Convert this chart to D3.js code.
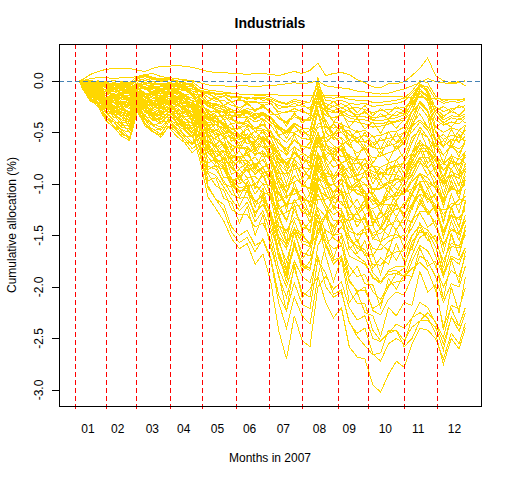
<!DOCTYPE html>
<html lang="en">
<head>
<meta charset="UTF-8">
<title>Industrials</title>
<script src="https://d3js.org/d3.v7.min.js"></script>
<style>
  body { margin: 0; background: #fff; }
  svg text { font-family: "Liberation Sans", Arial, Helvetica, sans-serif; fill: #000; }
</style>
</head>
<body>
<svg id="chart" width="512" height="480"></svg>
<script>
// trading-day index (2007) of each sample point
var days = [4,6,11,16,21,26,31,36,41,46,51,56,61,66,71,76,81,86,91,96,101,106,111,116,121,126,
            131,136,141,146,151,156,161,166,171,176,181,186,191,196,201,206,211,216,221,226,231,236,241,246,250];
var monthStarts = [1, 21, 40, 62, 82, 104, 125, 146, 169, 188, 211, 232];
var monthMids = [9.5, 28.5, 50.5, 70.5, 92, 112.5, 134, 157, 176, 199, 220, 243];
var monthLabels = ["01","02","03","04","05","06","07","08","09","10","11","12"];
var yTicks = [0, -0.5, -1, -1.5, -2, -2.5, -3];

// cumulative allocation (%), one array per portfolio
var p01 = [0,-0.01,-0.03,-0.02,-0.05,-0.04,-0.06,-0.07,-0.02,-0.04,-0.06,-0.05,-0.04,-0.05,-0.07,-0.08, -0.09,-0.11,-0.13,-0.14,-0.15,-0.16,-0.17,-0.17,-0.16,-0.18,-0.21,-0.23,-0.2,-0.22,-0.21,-0.02, -0.19,-0.2,-0.19,-0.22,-0.23,-0.22,-0.25,-0.24,-0.23,-0.22,-0.2,-0.12,-0.04,-0.06,-0.18,-0.22,-0.2,-0.21,-0.19];
var p02 = [0,0,-0.01,-0.02,-0.03,-0.02,-0.03,-0.04,0.03,0.05,0.02,0.01,0.02,0,-0.02,-0.03, -0.1,-0.16,-0.2,-0.19,-0.24,-0.26,-0.23,-0.28,-0.25,-0.3,-0.36,-0.4,-0.33,-0.37,-0.38,-0.08, -0.27,-0.29,-0.26,-0.3,-0.33,-0.31,-0.36,-0.35,-0.33,-0.34,-0.29,-0.18,-0.03,-0.09,-0.27,-0.34,-0.3,-0.33,-0.28];
var p03 = [0,-0.03,-0.07,-0.06,-0.13,-0.12,-0.18,-0.16,-0.08,-0.12,-0.16,-0.18,-0.13,-0.15,-0.2,-0.21, -0.18,-0.22,-0.26,-0.28,-0.3,-0.34,-0.31,-0.37,-0.33,-0.4,-0.47,-0.52,-0.44,-0.5,-0.53,-0.15, -0.5,-0.57,-0.55,-0.63,-0.7,-0.66,-0.75,-0.73,-0.7,-0.67,-0.6,-0.4,-0.2,-0.3,-0.6,-0.72,-0.63,-0.66,-0.6];
var p04 = [0,-0.05,-0.11,-0.12,-0.22,-0.21,-0.29,-0.3,-0.14,-0.21,-0.26,-0.27,-0.22,-0.29,-0.3,-0.33, -0.28,-0.36,-0.37,-0.43,-0.46,-0.52,-0.47,-0.55,-0.5,-0.6,-0.72,-0.8,-0.7,-0.76,-0.8,-0.5, -0.75,-0.84,-0.8,-0.9,-0.97,-0.93,-1.05,-1.04,-0.98,-0.95,-0.96,-0.8,-0.6,-0.7,-0.9,-1,-0.92,-0.94,-0.85];
var p05 = [0,-0.02,-0.04,-0.03,-0.07,-0.06,-0.09,-0.1,-0.03,-0.06,-0.07,-0.09,-0.06,-0.1,-0.13,-0.2, -0.36,-0.5,-0.57,-0.6,-0.72,-0.75,-0.7,-0.83,-0.76,-0.9,-1.08,-1.2,-1.05,-1.13,-1.18,-0.85, -0.9,-0.92,-0.91,-1.02,-1.1,-1.07,-1.2,-1.18,-1.15,-1.08,-1.1,-0.95,-0.8,-0.85,-1.02,-1.15,-1.05,-1.07,-1];
var p06 = [0,-0.05,-0.15,-0.17,-0.3,-0.31,-0.4,-0.42,-0.2,-0.3,-0.36,-0.38,-0.3,-0.37,-0.42,-0.48, -0.5,-0.62,-0.7,-0.75,-0.83,-0.93,-0.86,-1,-0.92,-1.1,-1.33,-1.48,-1.25,-1.42,-1.45,-1.05, -1.12,-1.15,-1.1,-1.32,-1.37,-1.33,-1.5,-1.48,-1.4,-1.36,-1.38,-1.2,-1.05,-1.1,-1.28,-1.47,-1.32,-1.33,-1.25];
var p07 = [0,-0.08,-0.19,-0.25,-0.39,-0.45,-0.54,-0.58,-0.3,-0.44,-0.5,-0.53,-0.45,-0.54,-0.6,-0.7, -0.62,-0.83,-0.86,-0.97,-1.1,-1.14,-1.13,-1.28,-1.2,-1.35,-1.7,-1.88,-1.6,-1.8,-1.84,-1.4, -1.3,-1.43,-1.36,-1.55,-1.6,-1.64,-1.78,-1.79,-1.7,-1.66,-1.65,-1.5,-1.4,-1.45,-1.55,-1.75,-1.58,-1.6,-1.5];
var p08 = [0,-0.03,-0.09,-0.11,-0.15,-0.19,-0.21,-0.24,-0.11,-0.19,-0.21,-0.2,-0.17,-0.23,-0.28,-0.4, -0.68,-1.02,-1.15,-1.2,-1.42,-1.5,-1.45,-1.6,-1.55,-1.74,-2.15,-2.4,-2.1,-2.28,-2.36,-1.9, -2.15,-2.3,-2.2,-2.58,-2.68,-2.7,-2.95,-3.02,-2.85,-2.72,-2.78,-2.55,-2.4,-2.42,-2.5,-2.7,-2.45,-2.55,-2.35];
var p09 = [0,-0.04,-0.13,-0.14,-0.25,-0.28,-0.32,-0.36,-0.17,-0.28,-0.31,-0.34,-0.26,-0.35,-0.4,-0.52, -0.78,-1.13,-1.24,-1.36,-1.53,-1.63,-1.58,-1.78,-1.68,-1.95,-2.42,-2.7,-2.28,-2.52,-2.58,-2, -1.9,-2.02,-1.95,-2.2,-2.32,-2.28,-2.5,-2.53,-2.45,-2.36,-2.4,-2.3,-2.15,-2.2,-2.35,-2.55,-2.3,-2.38,-2.2];
var p10 = [0,-0.01,-0.05,-0.06,-0.09,-0.1,-0.12,-0.11,-0.05,-0.08,-0.11,-0.12,-0.1,-0.1,-0.18,-0.28, -0.45,-0.7,-0.77,-0.8,-0.95,-1,-0.95,-1.1,-1,-1.15,-1.45,-1.6,-1.36,-1.55,-1.58,-1.3, -1.6,-1.78,-1.7,-1.93,-2.05,-2,-2.23,-2.27,-2.12,-2.05,-2.08,-1.9,-1.7,-1.75,-1.9,-2.15,-1.97,-2,-1.8];
var p11 = [0,-0.02,-0.08,-0.08,-0.15,-0.15,-0.2,-0.21,-0.1,-0.15,-0.17,-0.2,-0.15,-0.2,-0.21,-0.26, -0.31,-0.42,-0.43,-0.48,-0.55,-0.57,-0.55,-0.64,-0.58,-0.7,-0.84,-0.93,-0.8,-0.9,-0.92,-0.6, -0.65,-0.72,-0.66,-0.8,-0.8,-0.83,-0.88,-0.91,-0.85,-0.82,-0.8,-0.6,-0.45,-0.55,-0.76,-0.86,-0.8,-0.82,-0.72];
var p12 = [0,-0.07,-0.17,-0.21,-0.31,-0.38,-0.45,-0.47,-0.23,-0.37,-0.42,-0.45,-0.37,-0.43,-0.48,-0.55, -0.4,-0.48,-0.52,-0.53,-0.63,-0.65,-0.66,-0.71,-0.7,-0.77,-0.96,-1.07,-0.93,-1,-1.05,-0.75, -0.97,-1.08,-1,-1.15,-1.24,-1.2,-1.35,-1.33,-1.27,-1.25,-1.22,-1.05,-0.9,-1,-1.15,-1.3,-1.19,-1.2,-1.12];
var p13 = [0,-0.03,-0.04,-0.07,-0.11,-0.1,-0.15,-0.14,-0.07,-0.12,-0.12,-0.15,-0.12,-0.13,-0.17,-0.19, -0.22,-0.3,-0.3,-0.35,-0.38,-0.42,-0.39,-0.46,-0.42,-0.5,-0.6,-0.66,-0.57,-0.63,-0.66,-0.3, -0.45,-0.46,-0.44,-0.53,-0.55,-0.53,-0.6,-0.58,-0.56,-0.54,-0.5,-0.3,-0.12,-0.2,-0.5,-0.57,-0.53,-0.55,-0.48];
var p14 = [0,-0.05,-0.12,-0.13,-0.23,-0.24,-0.31,-0.33,-0.16,-0.26,-0.27,-0.31,-0.24,-0.31,-0.35,-0.48, -0.65,-0.9,-1.02,-1.06,-1.25,-1.3,-1.3,-1.42,-1.38,-1.55,-1.9,-2.1,-1.82,-2.05,-2.1,-1.6, -1.45,-1.5,-1.48,-1.7,-1.74,-1.78,-1.9,-1.97,-1.84,-1.8,-1.8,-1.6,-1.45,-1.5,-1.7,-1.9,-1.7,-1.74,-1.62];
var p15 = [0,-0.03,-0.1,-0.12,-0.19,-0.21,-0.24,-0.27,-0.13,-0.21,-0.22,-0.26,-0.21,-0.24,-0.27,-0.3, -0.2,-0.24,-0.24,-0.26,-0.3,-0.31,-0.3,-0.34,-0.31,-0.36,-0.45,-0.5,-0.42,-0.46,-0.47,-0.2, -0.34,-0.36,-0.33,-0.4,-0.4,-0.42,-0.45,-0.44,-0.42,-0.4,-0.38,-0.25,-0.1,-0.15,-0.38,-0.43,-0.4,-0.42,-0.36];
var p16 = [0,-0.08,-0.19,-0.22,-0.37,-0.4,-0.52,-0.55,-0.26,-0.42,-0.47,-0.52,-0.4,-0.48,-0.55,-0.62, -0.5,-0.6,-0.62,-0.7,-0.77,-0.85,-0.8,-0.91,-0.84,-1,-1.2,-1.35,-1.16,-1.26,-1.32,-1, -1.2,-1.3,-1.25,-1.42,-1.5,-1.47,-1.63,-1.64,-1.56,-1.52,-1.5,-1.35,-1.2,-1.25,-1.42,-1.58,-1.45,-1.48,-1.36];
var p17 = [0,0,-0.02,-0.04,-0.03,-0.05,-0.04,-0.05,0.01,-0.02,-0.04,-0.04,-0.03,-0.04,-0.05,-0.06, -0.11,-0.13,-0.16,-0.15,-0.2,-0.19,-0.2,-0.21,-0.21,-0.22,-0.3,-0.31,-0.27,-0.3,-0.32,0.03, -0.3,-0.4,-0.42,-0.46,-0.5,-0.48,-0.54,-0.53,-0.5,-0.49,-0.45,-0.3,-0.08,-0.15,-0.45,-0.5,-0.46,-0.48,-0.43];
var p18 = [0,-0.06,-0.12,-0.17,-0.27,-0.3,-0.35,-0.39,-0.19,-0.3,-0.32,-0.37,-0.3,-0.35,-0.41,-0.46, -0.56,-0.74,-0.83,-0.86,-1.02,-1.08,-1.02,-1.18,-1.1,-1.28,-1.57,-1.75,-1.48,-1.67,-1.7,-1.3, -1.55,-1.63,-1.6,-1.8,-1.9,-1.88,-2.05,-2.12,-1.98,-1.95,-1.94,-1.75,-1.6,-1.65,-1.8,-2,-1.84,-1.9,-1.7];
var p19 = [0,-0.05,-0.16,-0.18,-0.31,-0.33,-0.43,-0.43,-0.22,-0.35,-0.37,-0.42,-0.33,-0.4,-0.45,-0.5, -0.35,-0.37,-0.39,-0.43,-0.5,-0.53,-0.52,-0.58,-0.55,-0.63,-0.8,-0.88,-0.76,-0.84,-0.86,-0.7, -0.86,-0.96,-0.88,-1.05,-1.06,-1.1,-1.16,-1.22,-1.12,-1.12,-1.1,-0.98,-0.9,-0.94,-1.05,-1.18,-1.02,-1.1,-0.96];
var p20 = [0,-0.02,-0.05,-0.09,-0.11,-0.15,-0.16,-0.18,-0.1,-0.13,-0.16,-0.16,-0.15,-0.16,-0.2,-0.35, -0.55,-0.88,-0.92,-1.03,-1.15,-1.26,-1.18,-1.37,-1.26,-1.48,-1.82,-2,-1.75,-1.9,-1.96,-1.7, -2,-2.1,-2.05,-2.35,-2.45,-2.4,-2.65,-2.72,-2.55,-2.5,-2.55,-2.3,-2.25,-2.3,-2.45,-2.75,-2.5,-2.6,-2.4];
var p21 = [0,0,-0.01,-0.01,-0.02,-0.03,-0.02,-0.03,0.02,0.04,0.01,0,0.01,-0.01,-0.02,-0.04, -0.17,-0.24,-0.28,-0.31,-0.37,-0.41,-0.42,-0.49,-0.48,-0.55,-0.71,-0.82,-0.69,-0.77,-0.78,-0.5, -0.68,-0.74,-0.8,-0.97,-1.1,-1.12,-1.35,-1.33,-1.25,-1.08,-0.95,-0.7,-0.5,-0.55,-0.66,-0.72,-0.64,-0.7,-0.6];
var p22 = [0,-0.02,-0.03,-0.05,-0.09,-0.08,-0.12,-0.13,-0.05,-0.08,-0.11,-0.1,-0.08,-0.12,-0.13,-0.2, -0.3,-0.47,-0.48,-0.52,-0.56,-0.6,-0.55,-0.62,-0.55,-0.63,-0.75,-0.8,-0.7,-0.76,-0.8,-0.55, -0.55,-0.52,-0.45,-0.52,-0.59,-0.68,-0.83,-0.9,-0.91,-0.91,-0.95,-0.91,-0.74,-0.74,-0.86,-1.02,-0.91,-0.95,-0.86];
var p23 = [0,-0.03,-0.09,-0.14,-0.19,-0.24,-0.27,-0.3,-0.16,-0.22,-0.24,-0.29,-0.24,-0.27,-0.32,-0.35, -0.3,-0.35,-0.31,-0.3,-0.31,-0.3,-0.27,-0.29,-0.26,-0.29,-0.37,-0.41,-0.35,-0.38,-0.39,-0.25, -0.22,-0.25,-0.22,-0.27,-0.26,-0.28,-0.31,-0.29,-0.28,-0.27,-0.26,-0.2,-0.15,-0.18,-0.25,-0.3,-0.27,-0.26,-0.24];
var p24 = [0,-0.06,-0.18,-0.21,-0.35,-0.4,-0.48,-0.5,-0.25,-0.38,-0.44,-0.48,-0.38,-0.46,-0.52,-0.6, -0.51,-0.7,-0.76,-0.83,-0.96,-1.04,-1.02,-1.17,-1.12,-1.3,-1.65,-1.85,-1.58,-1.77,-1.82,-1.45, -1.32,-1.53,-1.58,-1.95,-2.03,-2.03,-2.21,-2.16,-2,-1.87,-1.82,-1.56,-1.47,-1.47,-1.61,-1.89,-1.61,-1.62,-1.42];
var p25 = [0,-0.01,-0.02,-0.04,-0.06,-0.05,-0.06,-0.08,-0.02,-0.04,-0.07,-0.06,-0.05,-0.06,-0.08,-0.15, -0.26,-0.35,-0.39,-0.43,-0.51,-0.56,-0.56,-0.65,-0.63,-0.74,-0.93,-1.03,-0.92,-1.02,-1.04,-0.82, -0.99,-1.08,-1.06,-1.25,-1.35,-1.35,-1.53,-1.56,-1.51,-1.49,-1.54,-1.43,-1.27,-1.27,-1.38,-1.6,-1.43,-1.49,-1.35];
var p26 = [0,-0.03,-0.07,-0.1,-0.15,-0.17,-0.21,-0.22,-0.11,-0.17,-0.19,-0.21,-0.17,-0.21,-0.24,-0.27, -0.19,-0.25,-0.28,-0.3,-0.34,-0.36,-0.35,-0.4,-0.37,-0.43,-0.54,-0.6,-0.51,-0.56,-0.57,-0.3, -0.62,-0.66,-0.63,-0.73,-0.76,-0.76,-0.83,-0.84,-0.8,-0.77,-0.7,-0.45,-0.25,-0.35,-0.73,-0.81,-0.73,-0.76,-0.69];
var p27 = [0,-0.05,-0.12,-0.15,-0.23,-0.26,-0.31,-0.32,-0.15,-0.21,-0.22,-0.22,-0.17,-0.2,-0.22,-0.25, -0.38,-0.52,-0.57,-0.62,-0.72,-0.78,-0.77,-0.88,-0.84,-0.97,-1.23,-1.36,-1.15,-1.28,-1.3,-0.95, -0.99,-1.01,-0.95,-1.04,-1.03,-1,-1.06,-1.05,-1,-0.96,-0.95,-0.86,-0.74,-0.74,-0.86,-0.99,-0.88,-0.92,-0.83];
var p28 = [0,-0.07,-0.2,-0.23,-0.36,-0.44,-0.5,-0.57,-0.28,-0.42,-0.49,-0.55,-0.44,-0.5,-0.57,-0.66, -0.6,-0.69,-0.69,-0.68,-0.73,-0.74,-0.72,-0.81,-0.77,-0.88,-1.1,-1.22,-1.04,-1.15,-1.17,-0.92, -1.1,-1.22,-1.24,-1.51,-1.62,-1.67,-1.86,-1.95,-1.85,-1.84,-1.9,-1.82,-1.76,-1.84,-2.03,-2.38,-2.21,-2.38,-2.2];
var p29 = [0,0,0,-0.01,-0.01,0,-0.01,-0.02,0.04,0.06,0.03,0.02,0.03,0.02,0,-0.01, -0.07,-0.09,-0.1,-0.11,-0.12,-0.13,-0.13,-0.14,-0.14,-0.16,-0.2,-0.22,-0.18,-0.2,-0.21,-0.05, -0.25,-0.3,-0.32,-0.36,-0.38,-0.38,-0.41,-0.42,-0.4,-0.39,-0.36,-0.2,-0.05,-0.1,-0.33,-0.41,-0.36,-0.38,-0.34];
var p30 = [0,-0.06,-0.13,-0.19,-0.27,-0.33,-0.38,-0.4,-0.22,-0.31,-0.34,-0.4,-0.33,-0.38,-0.44,-0.52, -0.72,-1.04,-1.15,-1.26,-1.47,-1.57,-1.52,-1.66,-1.53,-1.72,-2.08,-2.23,-1.96,-2.17,-2.21,-1.74, -1.87,-2.07,-2.03,-2.34,-2.48,-2.57,-2.66,-2.64,-2.42,-2.42,-2.52,-2.39,-2.33,-2.33,-2.39,-2.61,-2.29,-2.43,-2.25];
var p31 = [0,-0.01,-0.04,-0.04,-0.07,-0.08,-0.1,-0.1,-0.05,-0.08,-0.09,-0.1,-0.08,-0.1,-0.13,-0.2, -0.33,-0.58,-0.65,-0.74,-0.85,-0.91,-0.83,-0.9,-0.85,-0.94,-1.1,-1.14,-1.04,-1.15,-1.17,-0.8, -0.92,-0.94,-0.86,-0.94,-0.92,-0.89,-0.94,-0.96,-0.86,-0.83,-0.84,-0.73,-0.61,-0.64,-0.73,-0.87,-0.78,-0.81,-0.74];
var p32 = [0,-0.04,-0.08,-0.11,-0.17,-0.19,-0.23,-0.24,-0.13,-0.19,-0.21,-0.23,-0.19,-0.23,-0.26,-0.3, -0.15,-0.21,-0.23,-0.24,-0.28,-0.3,-0.29,-0.32,-0.31,-0.35,-0.44,-0.49,-0.41,-0.46,-0.47,-0.2, -0.42,-0.52,-0.5,-0.57,-0.59,-0.59,-0.65,-0.66,-0.63,-0.61,-0.55,-0.35,-0.2,-0.28,-0.57,-0.64,-0.57,-0.59,-0.54];
var p33 = [0,-0.02,-0.06,-0.07,-0.11,-0.13,-0.15,-0.16,-0.08,-0.13,-0.14,-0.15,-0.13,-0.15,-0.17,-0.26, -0.4,-0.63,-0.75,-0.84,-1.01,-1.07,-1.04,-1.17,-1.11,-1.27,-1.52,-1.63,-1.43,-1.58,-1.61,-1.23, -1.32,-1.41,-1.31,-1.46,-1.49,-1.43,-1.48,-1.44,-1.31,-1.24,-1.23,-1.09,-0.98,-0.98,-1.04,-1.16,-1.04,-1.08,-0.98];
var p34 = [0,-0.01,-0.02,-0.02,-0.03,-0.04,-0.04,-0.05,0,-0.02,-0.03,-0.03,-0.02,-0.03,-0.05,-0.14, -0.27,-0.38,-0.4,-0.41,-0.47,-0.46,-0.43,-0.47,-0.43,-0.49,-0.61,-0.68,-0.58,-0.64,-0.65,-0.45, -0.44,-0.52,-0.56,-0.78,-0.95,-1.08,-1.33,-1.44,-1.28,-1.16,-1.06,-0.83,-0.69,-0.69,-0.78,-0.93,-0.78,-0.81,-0.74];
var p35 = [0,-0.04,-0.1,-0.12,-0.18,-0.19,-0.22,-0.21,-0.1,-0.13,-0.12,-0.13,-0.1,-0.12,-0.14,-0.17, -0.21,-0.31,-0.36,-0.41,-0.5,-0.54,-0.56,-0.65,-0.63,-0.74,-0.98,-1.14,-1.04,-1.2,-1.3,-1.03, -1.21,-1.36,-1.35,-1.61,-1.7,-1.76,-1.92,-1.95,-1.88,-1.87,-1.9,-1.69,-1.52,-1.47,-1.61,-1.86,-1.72,-1.78,-1.62];
var p36 = [0,-0.01,-0.03,-0.04,-0.06,-0.07,-0.08,-0.09,-0.04,-0.07,-0.07,-0.08,-0.07,-0.08,-0.09,-0.1, -0.1,-0.12,-0.13,-0.14,-0.16,-0.17,-0.16,-0.18,-0.17,-0.2,-0.24,-0.26,-0.22,-0.25,-0.26,-0.12, -0.16,-0.17,-0.16,-0.18,-0.19,-0.19,-0.21,-0.21,-0.2,-0.19,-0.17,-0.1,0,-0.02,-0.15,-0.2,-0.18,-0.19,-0.17];
var p37 = [0,-0.04,-0.11,-0.14,-0.24,-0.28,-0.35,-0.38,-0.2,-0.31,-0.35,-0.4,-0.33,-0.41,-0.46,-0.54, -0.42,-0.4,-0.43,-0.46,-0.52,-0.55,-0.52,-0.58,-0.54,-0.61,-0.76,-0.84,-0.7,-0.77,-0.78,-0.58, -0.55,-0.63,-0.68,-0.83,-0.95,-1,-1.12,-1.2,-1.2,-1.21,-1.29,-1.2,-1.1,-1.13,-1.25,-1.45,-1.3,-1.35,-1.23];
var p38 = [0,-0.03,-0.07,-0.08,-0.13,-0.15,-0.18,-0.19,-0.1,-0.15,-0.17,-0.18,-0.15,-0.18,-0.2,-0.24, -0.34,-0.46,-0.5,-0.54,-0.62,-0.66,-0.64,-0.72,-0.68,-0.78,-0.98,-1.09,-0.92,-1.02,-1.04,-0.7, -0.95,-1.18,-1.17,-1.3,-1.3,-1.22,-1.24,-1.2,-1.08,-0.99,-0.95,-0.78,-0.66,-0.66,-0.78,-0.87,-0.78,-0.81,-0.74];
var p39 = [0,-0.05,-0.11,-0.16,-0.23,-0.28,-0.34,-0.34,-0.19,-0.26,-0.29,-0.32,-0.28,-0.32,-0.36,-0.42, -0.34,-0.38,-0.35,-0.34,-0.34,-0.33,-0.32,-0.36,-0.32,-0.37,-0.44,-0.49,-0.41,-0.46,-0.47,-0.25, -0.29,-0.31,-0.29,-0.34,-0.35,-0.35,-0.38,-0.39,-0.37,-0.36,-0.33,-0.22,-0.1,-0.14,-0.3,-0.38,-0.34,-0.35,-0.32];
var p40 = [0,-0.03,-0.08,-0.12,-0.17,-0.21,-0.24,-0.27,-0.13,-0.2,-0.23,-0.24,-0.2,-0.24,-0.27,-0.33, -0.46,-0.69,-0.78,-0.85,-0.99,-1.07,-1.06,-1.21,-1.16,-1.35,-1.72,-1.9,-1.61,-1.79,-1.82,-1.44, -1.58,-1.74,-1.71,-2.03,-2.16,-2.16,-2.42,-2.52,-2.45,-2.42,-2.58,-2.5,-2.33,-2.25,-2.34,-2.49,-2.18,-2.21,-2.01];
var p41 = [0,0.01,0.06,0.09,0.11,0.12,0.12,0.12,0.1,0.09,0.12,0.14,0.14,0.15,0.14,0.13, 0.11,0.09,0.08,0.08,0.07,0.07,0.06,0.07,0.07,0.06,0.05,0.07,0.09,0.07,0.1,0.17, 0.05,0.07,0.08,0.06,0.01,-0.02,-0.06,-0.07,-0.03,-0.03,-0.01,0.05,0.12,0.22,0.05,0,-0.02,-0.01,-0.05];
var p42 = [0,0,0.02,0.03,0.03,0.02,0.03,0.03,0.04,0.06,0.07,0.04,0.03,0.02,0.01,0, -0.02,-0.04,-0.05,-0.05,-0.06,-0.05,-0.05,-0.06,-0.05,-0.05,-0.04,-0.03,-0.02,-0.03,-0.02,0, -0.05,-0.06,-0.07,-0.08,-0.1,-0.11,-0.12,-0.13,-0.12,-0.1,-0.08,-0.05,-0.02,0.02,-0.01,-0.02,-0.03,-0.02,0];
var p43 = [0,-0.01,-0.02,-0.03,-0.04,-0.05,-0.05,-0.06,-0.03,-0.04,-0.05,-0.06,-0.05,-0.06,-0.07,-0.08, -0.1,-0.11,-0.12,-0.12,-0.12,-0.13,-0.13,-0.13,-0.13,-0.13,-0.14,-0.14,-0.14,-0.14,-0.14,-0.14, -0.14,-0.14,-0.15,-0.15,-0.15,-0.15,-0.15,-0.15,-0.15,-0.15,-0.16,-0.16,-0.16,-0.17,-0.17,-0.18,-0.18,-0.18,-0.18];
var p44 = [0,-0.02,-0.05,-0.03,-0.06,-0.08,-0.05,-0.09,-0.03,-0.07,-0.05,-0.08,-0.04,-0.08,-0.06,-0.1, -0.18,-0.33,-0.27,-0.38,-0.35,-0.46,-0.36,-0.5,-0.38,-0.55,-0.57,-0.72,-0.52,-0.68,-0.6,-0.42, -0.38,-0.52,-0.41,-0.58,-0.48,-0.6,-0.53,-0.66,-0.5,-0.6,-0.5,-0.44,-0.38,-0.45,-0.58,-0.52,-0.6,-0.48,-0.53];
var p45 = [0,-0.04,-0.1,-0.07,-0.17,-0.13,-0.23,-0.17,-0.14,-0.13,-0.21,-0.17,-0.19,-0.16,-0.25,-0.22, -0.42,-0.47,-0.62,-0.55,-0.76,-0.68,-0.79,-0.74,-0.84,-0.8,-1.17,-1.12,-1.1,-1.06,-1.22,-0.98, -0.85,-0.75,-0.88,-0.84,-1.03,-0.88,-1.1,-0.97,-1.08,-0.9,-1.05,-0.85,-0.78,-0.92,-0.84,-1.1,-0.85,-1.02,-0.8];
var p46 = [0,-0.01,-0.06,-0.03,-0.1,-0.07,-0.13,-0.09,-0.08,-0.06,-0.12,-0.09,-0.11,-0.08,-0.14,-0.12, -0.26,-0.45,-0.39,-0.52,-0.49,-0.64,-0.51,-0.69,-0.55,-0.74,-0.8,-1,-0.76,-0.95,-0.85,-0.8, -0.92,-1.12,-0.95,-1.24,-1.15,-1.3,-1.26,-1.42,-1.2,-1.32,-1.18,-1.25,-1.02,-1.18,-1.1,-1.38,-1.1,-1.28,-1.05];
var p47 = [0,-0.03,-0.12,-0.09,-0.21,-0.17,-0.29,-0.23,-0.17,-0.18,-0.26,-0.22,-0.23,-0.21,-0.31,-0.28, -0.3,-0.31,-0.43,-0.37,-0.52,-0.45,-0.54,-0.49,-0.57,-0.53,-0.8,-0.76,-0.75,-0.71,-0.84,-0.55, -0.6,-0.53,-0.62,-0.58,-0.75,-0.62,-0.8,-0.69,-0.78,-0.63,-0.76,-0.55,-0.48,-0.66,-0.6,-0.8,-0.6,-0.74,-0.57];
var p48 = [0,-0.06,-0.1,-0.18,-0.21,-0.31,-0.3,-0.39,-0.21,-0.24,-0.34,-0.3,-0.3,-0.3,-0.41,-0.4, -0.47,-0.53,-0.69,-0.62,-0.85,-0.77,-0.88,-0.83,-0.93,-0.9,-1.3,-1.28,-1.22,-1.2,-1.38,-1.1, -1.25,-1.48,-1.28,-1.64,-1.54,-1.7,-1.68,-1.88,-1.63,-1.74,-1.6,-1.64,-1.38,-1.55,-1.5,-1.82,-1.48,-1.7,-1.4];
var p49 = [0,-0.01,-0.02,0,-0.03,-0.02,-0.05,-0.03,0,0.02,-0.01,0.01,-0.02,0,-0.03,-0.05, -0.1,-0.2,-0.16,-0.24,-0.2,-0.29,-0.21,-0.3,-0.23,-0.33,-0.33,-0.44,-0.31,-0.41,-0.35,-0.15, -0.26,-0.2,-0.27,-0.23,-0.31,-0.24,-0.34,-0.27,-0.32,-0.25,-0.3,-0.18,-0.1,-0.16,-0.29,-0.25,-0.3,-0.24,-0.27];
var p50 = [0,-0.05,-0.08,-0.16,-0.17,-0.27,-0.25,-0.33,-0.18,-0.2,-0.29,-0.25,-0.26,-0.25,-0.35,-0.33, -0.55,-0.64,-0.8,-0.75,-0.99,-0.92,-1.03,-1,-1.1,-1.08,-1.4,-1.56,-1.45,-1.5,-1.58,-1.5, -1.3,-1.12,-1.08,-1.1,-1.28,-1.15,-1.4,-1.26,-1.36,-1.18,-1.33,-1.1,-1.2,-1.05,-1.24,-1.25,-1.23,-1.15,-1.16];
var p51 = [0,-0.03,-0.04,-0.09,-0.08,-0.14,-0.12,-0.18,-0.06,-0.13,-0.11,-0.16,-0.09,-0.16,-0.14,-0.2, -0.2,-0.2,-0.29,-0.24,-0.35,-0.3,-0.36,-0.33,-0.38,-0.35,-0.53,-0.5,-0.5,-0.47,-0.56,-0.28, -0.6,-0.77,-0.62,-0.85,-0.75,-0.88,-0.82,-0.97,-0.8,-0.9,-0.78,-0.7,-0.58,-0.66,-0.84,-0.8,-0.86,-0.75,-0.8];
var p52 = [0,-0.07,-0.12,-0.21,-0.25,-0.36,-0.35,-0.45,-0.24,-0.29,-0.39,-0.35,-0.36,-0.35,-0.47,-0.46, -0.4,-0.42,-0.55,-0.5,-0.68,-0.61,-0.7,-0.66,-0.74,-0.72,-1.04,-1.02,-0.98,-0.95,-1.1,-0.85, -1.02,-1.24,-1.06,-1.37,-1.27,-1.42,-1.4,-1.57,-1.35,-1.45,-1.32,-1.38,-1.15,-1.3,-1.22,-1.52,-1.24,-1.42,-1.18];
var p53 = [0,-0.03,-0.05,-0.1,-0.1,-0.16,-0.14,-0.2,-0.07,-0.16,-0.13,-0.19,-0.12,-0.19,-0.17,-0.26, -0.42,-0.69,-0.63,-0.8,-0.79,-0.97,-0.82,-1.05,-0.88,-1.13,-1.28,-1.56,-1.2,-1.46,-1.37,-1.25, -1.48,-1.72,-1.5,-1.9,-1.8,-1.97,-1.98,-2.2,-1.92,-2.02,-1.88,-1.9,-1.62,-1.8,-1.75,-2.12,-1.74,-1.96,-1.65];
var p54 = [0,-0.02,-0.02,-0.06,-0.04,-0.09,-0.06,-0.11,-0.03,-0.09,-0.06,-0.1,-0.05,-0.1,-0.07,-0.13, -0.1,-0.1,-0.14,-0.12,-0.17,-0.15,-0.18,-0.16,-0.19,-0.18,-0.27,-0.25,-0.25,-0.23,-0.28,-0.1, -0.28,-0.4,-0.3,-0.45,-0.36,-0.47,-0.4,-0.51,-0.38,-0.46,-0.38,-0.3,-0.22,-0.3,-0.45,-0.4,-0.45,-0.36,-0.41];
var p55 = [0,-0.04,-0.07,-0.13,-0.14,-0.21,-0.2,-0.26,-0.14,-0.16,-0.23,-0.2,-0.21,-0.2,-0.28,-0.34, -0.55,-0.86,-0.82,-1,-1.03,-1.22,-1.06,-1.32,-1.12,-1.43,-1.65,-1.96,-1.55,-1.85,-1.75,-1.5, -1.3,-1.22,-1.32,-1.36,-1.57,-1.42,-1.7,-1.58,-1.65,-1.44,-1.62,-1.35,-1.28,-1.42,-1.36,-1.68,-1.36,-1.55,-1.3];
var p56 = [0,-0.05,-0.09,-0.17,-0.19,-0.29,-0.27,-0.36,-0.2,-0.22,-0.32,-0.27,-0.28,-0.27,-0.38,-0.36, -0.25,-0.28,-0.35,-0.33,-0.42,-0.4,-0.44,-0.45,-0.47,-0.5,-0.66,-0.72,-0.64,-0.7,-0.75,-0.55, -0.82,-0.99,-0.84,-1.1,-1,-1.15,-1.12,-1.27,-1.08,-1.17,-1.05,-1.1,-0.9,-1.05,-0.98,-1.22,-0.97,-1.14,-0.92];
var p57 = [0,-0.01,0,-0.02,-0.01,-0.04,-0.02,-0.05,0.02,0,0.03,-0.01,0.01,-0.02,-0.04,-0.12, -0.3,-0.55,-0.5,-0.65,-0.64,-0.8,-0.66,-0.86,-0.7,-0.93,-1.02,-1.26,-0.98,-1.2,-1.1,-0.75, -0.72,-0.65,-0.74,-0.72,-0.87,-0.75,-0.95,-0.84,-0.92,-0.77,-0.9,-0.7,-0.62,-0.8,-0.72,-0.94,-0.72,-0.88,-0.68];
var p58 = [0,-0.06,-0.11,-0.19,-0.23,-0.33,-0.32,-0.42,-0.23,-0.26,-0.37,-0.32,-0.33,-0.32,-0.44,-0.43, -0.34,-0.36,-0.48,-0.43,-0.59,-0.53,-0.61,-0.58,-0.65,-0.63,-0.9,-0.9,-0.86,-0.84,-0.95,-0.6, -0.5,-0.42,-0.5,-0.48,-0.6,-0.5,-0.65,-0.55,-0.63,-0.5,-0.62,-0.42,-0.32,-0.45,-0.48,-0.64,-0.47,-0.6,-0.44];
var p59 = [0,-0.02,-0.09,-0.08,-0.17,-0.15,-0.23,-0.2,-0.13,-0.15,-0.21,-0.19,-0.19,-0.18,-0.26,-0.38, -0.62,-0.97,-0.94,-1.14,-1.18,-1.38,-1.22,-1.5,-1.3,-1.62,-1.88,-2.24,-1.78,-2.1,-2.02,-1.9, -1.6,-1.5,-1.42,-1.5,-1.68,-1.55,-1.82,-1.72,-1.78,-1.58,-1.75,-1.5,-1.42,-1.55,-1.5,-1.82,-1.5,-1.7,-1.45];
var p60 = [0,0,-0.03,-0.01,-0.05,-0.03,-0.07,-0.04,0,-0.03,-0.01,-0.04,-0.02,-0.04,-0.06,-0.12, -0.22,-0.38,-0.33,-0.45,-0.42,-0.55,-0.44,-0.6,-0.47,-0.65,-0.68,-0.88,-0.64,-0.82,-0.72,-0.5, -0.78,-0.93,-0.8,-1.05,-0.98,-1.1,-1.08,-1.2,-1.02,-1.12,-1,-0.92,-0.75,-0.85,-0.95,-1.15,-0.92,-1.08,-0.88];
var p61 = [0,-0.07,-0.14,-0.23,-0.29,-0.4,-0.41,-0.5,-0.27,-0.33,-0.44,-0.4,-0.39,-0.41,-0.54,-0.54, -0.52,-0.6,-0.74,-0.69,-0.91,-0.86,-0.94,-0.93,-1,-1.02,-1.41,-1.45,-1.33,-1.36,-1.48,-1, -1.05,-1,-1.08,-1.1,-1.28,-1.16,-1.38,-1.28,-1.35,-1.2,-1.32,-1.1,-0.98,-1.15,-1.1,-1.36,-1.1,-1.28,-1.05];
var p62 = [0,-0.01,-0.06,-0.04,-0.1,-0.08,-0.14,-0.1,-0.08,-0.08,-0.13,-0.1,-0.12,-0.1,-0.16,-0.25, -0.5,-0.8,-0.76,-0.94,-0.95,-1.13,-0.98,-1.23,-1.04,-1.33,-1.52,-1.83,-1.43,-1.73,-1.62,-1.35, -1.7,-1.95,-1.72,-2.15,-2.05,-2.25,-2.28,-2.48,-2.2,-2.28,-2.15,-2.18,-1.85,-2.05,-1.98,-2.42,-2,-2.25,-1.9];
var p63 = [0,-0.03,-0.05,-0.1,-0.1,-0.16,-0.14,-0.2,-0.07,-0.15,-0.12,-0.18,-0.1,-0.18,-0.15,-0.2, -0.14,-0.12,-0.18,-0.15,-0.21,-0.18,-0.22,-0.2,-0.24,-0.22,-0.32,-0.3,-0.3,-0.28,-0.34,-0.1, -0.42,-0.56,-0.45,-0.62,-0.55,-0.66,-0.6,-0.72,-0.58,-0.66,-0.56,-0.5,-0.4,-0.48,-0.64,-0.58,-0.65,-0.52,-0.6];
var p64 = [0,-0.05,-0.09,-0.15,-0.18,-0.26,-0.25,-0.32,-0.13,-0.25,-0.22,-0.3,-0.2,-0.3,-0.27,-0.38, -0.3,-0.48,-0.42,-0.56,-0.53,-0.67,-0.55,-0.73,-0.58,-0.8,-0.86,-1.1,-0.82,-1.03,-0.92,-0.62, -0.75,-0.68,-0.8,-0.76,-0.92,-0.8,-1,-0.88,-0.98,-0.82,-0.95,-0.75,-0.66,-0.85,-0.76,-0.98,-0.76,-0.92,-0.72];
var p65 = [0,-0.02,-0.02,-0.05,-0.06,-0.09,-0.07,-0.11,-0.04,-0.09,-0.07,-0.11,-0.06,-0.11,-0.09,-0.14, -0.13,-0.25,-0.22,-0.29,-0.28,-0.35,-0.29,-0.38,-0.31,-0.41,-0.45,-0.56,-0.43,-0.53,-0.48,-0.2, -0.3,-0.24,-0.31,-0.28,-0.36,-0.29,-0.39,-0.32,-0.37,-0.3,-0.32,-0.15,-0.04,-0.12,-0.3,-0.36,-0.28,-0.34,-0.27];
var p66 = [0,-0.08,-0.16,-0.26,-0.33,-0.45,-0.47,-0.56,-0.3,-0.38,-0.49,-0.46,-0.44,-0.47,-0.6,-0.6, -0.56,-0.65,-0.8,-0.76,-0.99,-0.94,-1.02,-1.02,-1.08,-1.12,-1.52,-1.58,-1.44,-1.48,-1.6,-1.15, -1.15,-1.12,-1.2,-1.24,-1.42,-1.3,-1.54,-1.42,-1.5,-1.32,-1.46,-1.22,-1.1,-1.28,-1.22,-1.52,-1.22,-1.42,-1.16];
var p67 = [0,-0.03,-0.1,-0.09,-0.19,-0.16,-0.26,-0.21,-0.15,-0.16,-0.24,-0.2,-0.21,-0.2,-0.29,-0.3, -0.44,-0.52,-0.65,-0.6,-0.8,-0.74,-0.83,-0.8,-0.89,-0.87,-1.24,-1.2,-1.18,-1.12,-1.3,-0.9, -0.62,-0.7,-0.62,-0.75,-0.78,-0.88,-0.9,-1.02,-0.98,-1.05,-1.08,-1.05,-1,-1.15,-1.2,-1.5,-1.3,-1.48,-1.3];

var series = [p01,p02,p03,p04,p05,p06,p07,p08,p09,p10,p11,p12,p13,p14,p15,p16,p17,p18,p19,p20,
              p21,p22,p23,p24,p25,p26,p27,p28,p29,p30,p31,p32,p33,p34,p35,p36,p37,p38,p39,p40,
              p41,p42,p43,p44,p45,p46,p47,p48,p49,p50,p51,p52,p53,p54,p55,p56,p57,p58,p59,p60,
              p61,p62,p63,p64,p65,p66,p67];

var svg = d3.select("#chart");
var plotL = 59, plotR = 481, plotT = 44, plotB = 406;

// R style 4% padding around the day range
var pad = 0.04 * (250 - 1);
var x = d3.scaleLinear().domain([1 - pad, 250 + pad]).range([plotL, plotR]);
var y = d3.scaleLinear().domain([-3.155, 0.356]).range([plotB, plotT]);

var line = d3.line()
    .defined(function(d) { return d != null; })
    .x(function(d, i) { return x(days[i]); })
    .y(function(d) { return y(d); });

svg.append("g")
    .selectAll("path")
    .data(series)
    .join("path")
    .attr("d", line)
    .attr("fill", "none")
    .attr("stroke", "#FFD700")
    .attr("stroke-width", 1)
    .attr("shape-rendering", "crispEdges");

// zero line
svg.append("line")
    .attr("x1", plotL).attr("x2", plotR)
    .attr("y1", Math.round(y(0)) + 0.5).attr("y2", Math.round(y(0)) + 0.5)
    .attr("stroke", "#4682B4")
    .attr("stroke-dasharray", "5,3");

// month boundaries
svg.append("g")
    .selectAll("line")
    .data(monthStarts)
    .join("line")
    .attr("x1", function(d) { return Math.round(x(d)) + 0.5; })
    .attr("x2", function(d) { return Math.round(x(d)) + 0.5; })
    .attr("y1", plotT)
    .attr("y2", plotB + 6)
    .attr("stroke", "red")
    .attr("stroke-dasharray", "5,3");

// box
svg.append("rect")
    .attr("x", plotL + 0.5).attr("y", plotT + 0.5)
    .attr("width", plotR - plotL).attr("height", plotB - plotT)
    .attr("fill", "none")
    .attr("stroke", "#000");

// y axis
var yAxis = svg.append("g");
yAxis.selectAll("line")
    .data(yTicks)
    .join("line")
    .attr("x1", plotL - 7).attr("x2", plotL)
    .attr("y1", function(d) { return Math.round(y(d)) + 0.5; })
    .attr("y2", function(d) { return Math.round(y(d)) + 0.5; })
    .attr("stroke", "#000");
yAxis.selectAll("text")
    .data(yTicks)
    .join("text")
    .attr("transform", function(d) { return "translate(42.5," + y(d) + ") rotate(-90)"; })
    .attr("text-anchor", "middle")
    .attr("font-size", 12)
    .text(function(d) { return d.toFixed(1); });

// month labels
svg.append("g")
    .selectAll("text")
    .data(monthMids)
    .join("text")
    .attr("x", function(d) { return x(d); })
    .attr("y", 433)
    .attr("text-anchor", "middle")
    .attr("font-size", 12)
    .text(function(d, i) { return monthLabels[i]; });

svg.append("text")
    .attr("x", (plotL + plotR) / 2).attr("y", 28)
    .attr("text-anchor", "middle")
    .attr("font-size", 14)
    .attr("font-weight", "bold")
    .text("Industrials");

svg.append("text")
    .attr("x", (plotL + plotR) / 2).attr("y", 462)
    .attr("text-anchor", "middle")
    .attr("font-size", 12)
    .text("Months in 2007");

svg.append("text")
    .attr("transform", "translate(15.5," + (plotT + plotB) / 2 + ") rotate(-90)")
    .attr("text-anchor", "middle")
    .attr("font-size", 12)
    .text("Cumulative allocation (%)");
</script>
</body>
</html>
